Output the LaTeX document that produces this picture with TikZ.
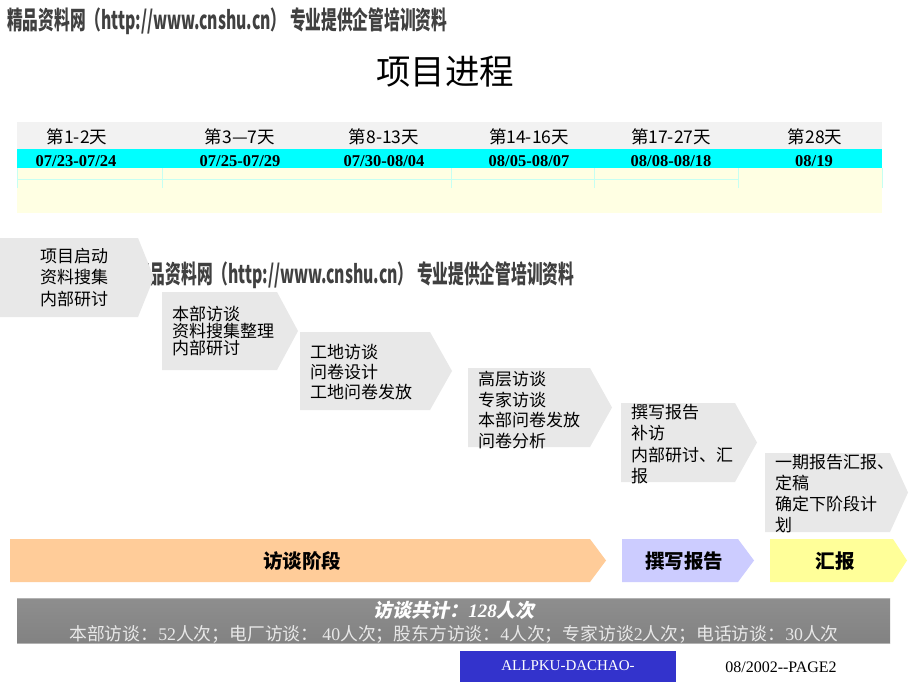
\documentclass[tikz,border=0pt]{standalone}
\usepackage{fontspec}
\setmainfont{Liberation Serif}
\newfontfamily\cjk{Noto Sans CJK SC}
\newfontfamily\cjkslant{Noto Sans CJK SC}[FakeSlant=0.2]
\usetikzlibrary{positioning}
\definecolor{chevgray}{HTML}{E8E8E8}
\definecolor{headgray}{HTML}{F2F2F2}
\definecolor{datecyan}{HTML}{00FFFF}
\definecolor{paleyellow}{HTML}{FFFFE3}
\definecolor{gridcyan}{HTML}{C6FFF2}
\definecolor{phaseorange}{HTML}{FFCC99}
\definecolor{phaseviolet}{HTML}{CCCCFF}
\definecolor{phaseyellow}{HTML}{FFFF99}
\definecolor{footblue}{HTML}{3333CC}
\definecolor{barlight}{HTML}{8E8E8E}
\definecolor{bardark}{HTML}{333333}
\definecolor{barlow}{HTML}{828282}
\newcommand{\wmline}{\resizebox*{440pt}{27pt}{\cjk\bfseries 精品资料网（http://www.cnshu.cn） 专业提供企管培训资料}}

\begin{document}
\begin{tikzpicture}[
      x=1pt,y=-1pt,
      day/.style={font=\cjk\fontsize{17.5}{19}\selectfont,inner sep=0pt},
      date/.style={font=\bfseries\fontsize{16.5}{18}\selectfont,inner sep=0pt},
      chev/.style={fill=chevgray},
      chevtext/.style={anchor=north west,align=left,inner sep=0pt},
      phase/.style={font=\cjk\bfseries\fontsize{19.5}{22}\selectfont,inner sep=0pt},
      watermark/.style={anchor=north west,inner sep=0pt,text=black!75}
    ]
    \useasboundingbox[fill=white] (0,0) rectangle (920,690);

    \node[watermark] (wmtop) at (7,8) {\wmline};
    \node[watermark] (wmmid) at (134,262) {\wmline};

    \node[font=\cjk\fontsize{34.5}{38}\selectfont] (title) at (445,72) {项目进程};

    \fill[headgray] (17,122) rectangle (882,149);
    \fill[datecyan] (17,149) rectangle (882,168);
    \fill[paleyellow] (17,168) rectangle (882,213);
    \draw[gridcyan] (17,179) -- (738,179);
    \foreach \xs in {17,162,451,594,738,882}
      \draw[gridcyan] (\xs,168) -- (\xs,188);

    \node[day] (day1) at (77,137) {第1-2天};
    \node[day] (day2) at (240,137) {第3—7天};
    \node[day] (day3) at (384,137) {第8-13天};
    \node[day] (day4) at (529,137) {第14-16天};
    \node[day] (day5) at (671,137) {第17-27天};
    \node[day] (day6) at (815,137) {第28天};
    \node[date] (date1) at (76,161) {07/23-07/24};
    \node[date] (date2) at (240,161) {07/25-07/29};
    \node[date] (date3) at (384,161) {07/30-08/04};
    \node[date] (date4) at (529,161) {08/05-08/07};
    \node[date] (date5) at (671,161) {08/08-08/18};
    \node[date] (date6) at (814,161) {08/19};

    \foreach \n/\x/\y/\w/\h/\t/\tx/\ty/\ls/\txt in {
        1/0/238/138/79/16/40/248/21.5/{项目启动\\资料搜集\\内部研讨},
        2/162/292/115/78/21/172/306/17/{本部访谈\\资料搜集整理\\内部研讨},
        3/300/332/130/78/22/310/344/20/{工地访谈\\问卷设计\\工地问卷发放},
        4/468/368/122/79/22/478/371/20.5/{高层访谈\\专家访谈\\本部问卷发放\\问卷分析},
        5/621/403/114/79/22/631/404/21.3/{撰写报告\\补访\\内部研讨、汇\\报},
        6/765/453/125/79/18/775/454/21/{一期报告汇报、\\定稿\\确定下阶段计\\划}}{
      \fill[chev] (\x,\y) -- ++(\w,0) -- ++(\t,\h/2) -- ++(-\t,\h/2) -- ++(-\w,0) -- cycle;
      \node[chevtext,font=\cjk\fontsize{17}{\ls}\selectfont] (ch\n) at (\tx,\ty) {\txt};
    }

    \fill[phaseorange] (10,539) -- (590,539) -- (606,560.5) -- (590,582) -- (10,582) -- cycle;
    \fill[phaseviolet] (622,539) -- (738,539) -- (754,560.5) -- (738,582) -- (622,582) -- cycle;
    \fill[phaseyellow] (770,539) -- (893,539) -- (907,560.5) -- (893,582) -- (770,582) -- cycle;
    \node[phase] (interview) at (302,561) {访谈阶段};
    \node[phase] (writing) at (684,561) {撰写报告};
    \node[phase] (briefing) at (835,561) {汇报};

    \shade[top color=barlight,middle color=bardark,bottom color=barlow] (17,598) rectangle (890,643);
    \draw[gray!60] (17,598) -- (890,598) (17,643) -- (890,643);
    \node[text=white,inner sep=0pt,font=\cjkslant\bfseries\fontsize{19}{22}\selectfont] (total) at (454,610)
      {访谈共计：{\rmfamily\itshape 128}人次};
    \node[text=gray!18,inner sep=0pt,font=\cjk\fontsize{17.8}{19}\selectfont,below=6pt of total] (detail)
      {本部访谈：{\rmfamily 52}人次；电厂访谈： {\rmfamily 40}人次；股东方访谈：{\rmfamily 4}人次；专家访谈{\rmfamily 2}人次；电话访谈：{\rmfamily 30}人次};

    \fill[footblue] (460,651) rectangle (676,682);
    \node[text=white,font=\fontsize{15}{17}\selectfont] (team) at (568,666) {ALLPKU-DACHAO-};
    \node[font=\fontsize{16}{18}\selectfont] (page) at (781,667) {08/2002-{}-PAGE2};
  \end{tikzpicture}
\end{document}
